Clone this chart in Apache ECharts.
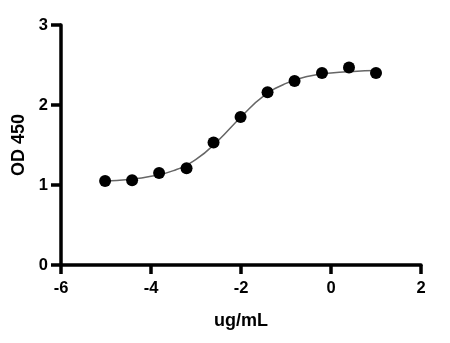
<!DOCTYPE html>
<html><head><meta charset="utf-8">
<script src="https://cdn.jsdelivr.net/npm/echarts@6/dist/echarts.min.js"></script>
<style>html,body{margin:0;padding:0;background:#fff}#c{width:450px;height:343px}</style>
</head><body><div id="c"></div>
<script>
const xValues = [-5.02, -4.42, -3.82, -3.21, -2.61, -2.01, -1.41, -0.81, -0.20, 0.40, 1.00];
const yValues = [1.05, 1.06, 1.15, 1.21, 1.53, 1.85, 2.16, 2.30, 2.40, 2.47, 2.40];
const curveX = [-5.02, -4.5, -4.0, -3.5, -3.0, -2.5, -2.0, -1.5, -1.0, -0.5, 0.0, 0.5, 1.0];
const curveY = [1.05, 1.07, 1.11, 1.18, 1.32, 1.56, 1.85, 2.11, 2.27, 2.36, 2.40, 2.42, 2.43];
const xTicks = [-6, -4, -2, 0, 2];
const yTicks = [0, 1, 2, 3];

const chart = echarts.init(document.getElementById('c'));
const font = 'Liberation Sans, Arial, sans-serif';
chart.setOption({
  animation: false,
  grid: {left: 61, right: 29, top: 25, bottom: 78},
  xAxis: {
    type: 'value', min: -6, max: 2, interval: 2,
    name: 'ug/mL', nameLocation: 'middle', nameGap: 47,
    nameTextStyle: {fontFamily: font, fontWeight: 'bold', fontSize: 18, color: '#000'},
    axisLine: {show: true, onZero: false, lineStyle: {color: '#000', width: 3.5}},
    axisTick: {show: true, length: 9, lineStyle: {color: '#000', width: 3.5}},
    axisLabel: {fontFamily: font, fontWeight: 'bold', fontSize: 16.5, color: '#000', margin: 15,
      formatter: v => xTicks.includes(v) ? String(v) : ''},
    splitLine: {show: false}
  },
  yAxis: {
    type: 'value', min: 0, max: 3, interval: 1,
    name: 'OD 450', nameLocation: 'middle', nameGap: 30, nameRotate: 90,
    nameTextStyle: {fontFamily: font, fontWeight: 'bold', fontSize: 18, color: '#000'},
    axisLine: {show: true, onZero: false, lineStyle: {color: '#000', width: 3.5}},
    axisTick: {show: true, length: 10, lineStyle: {color: '#000', width: 3.5}},
    axisLabel: {fontFamily: font, fontWeight: 'bold', fontSize: 16.5, color: '#000', margin: 13,
      formatter: v => yTicks.includes(v) ? String(v) : ''},
    splitLine: {show: false}
  },
  series: [
    {type: 'line', data: curveX.map((x, i) => [x, curveY[i]]), smooth: true, showSymbol: false,
      lineStyle: {color: '#666', width: 1.5}, z: 2},
    {type: 'scatter', data: xValues.map((x, i) => [x, yValues[i]]), symbol: 'circle', symbolSize: 12,
      itemStyle: {color: '#000', opacity: 1}, z: 3}
  ]
});
</script></body></html>
